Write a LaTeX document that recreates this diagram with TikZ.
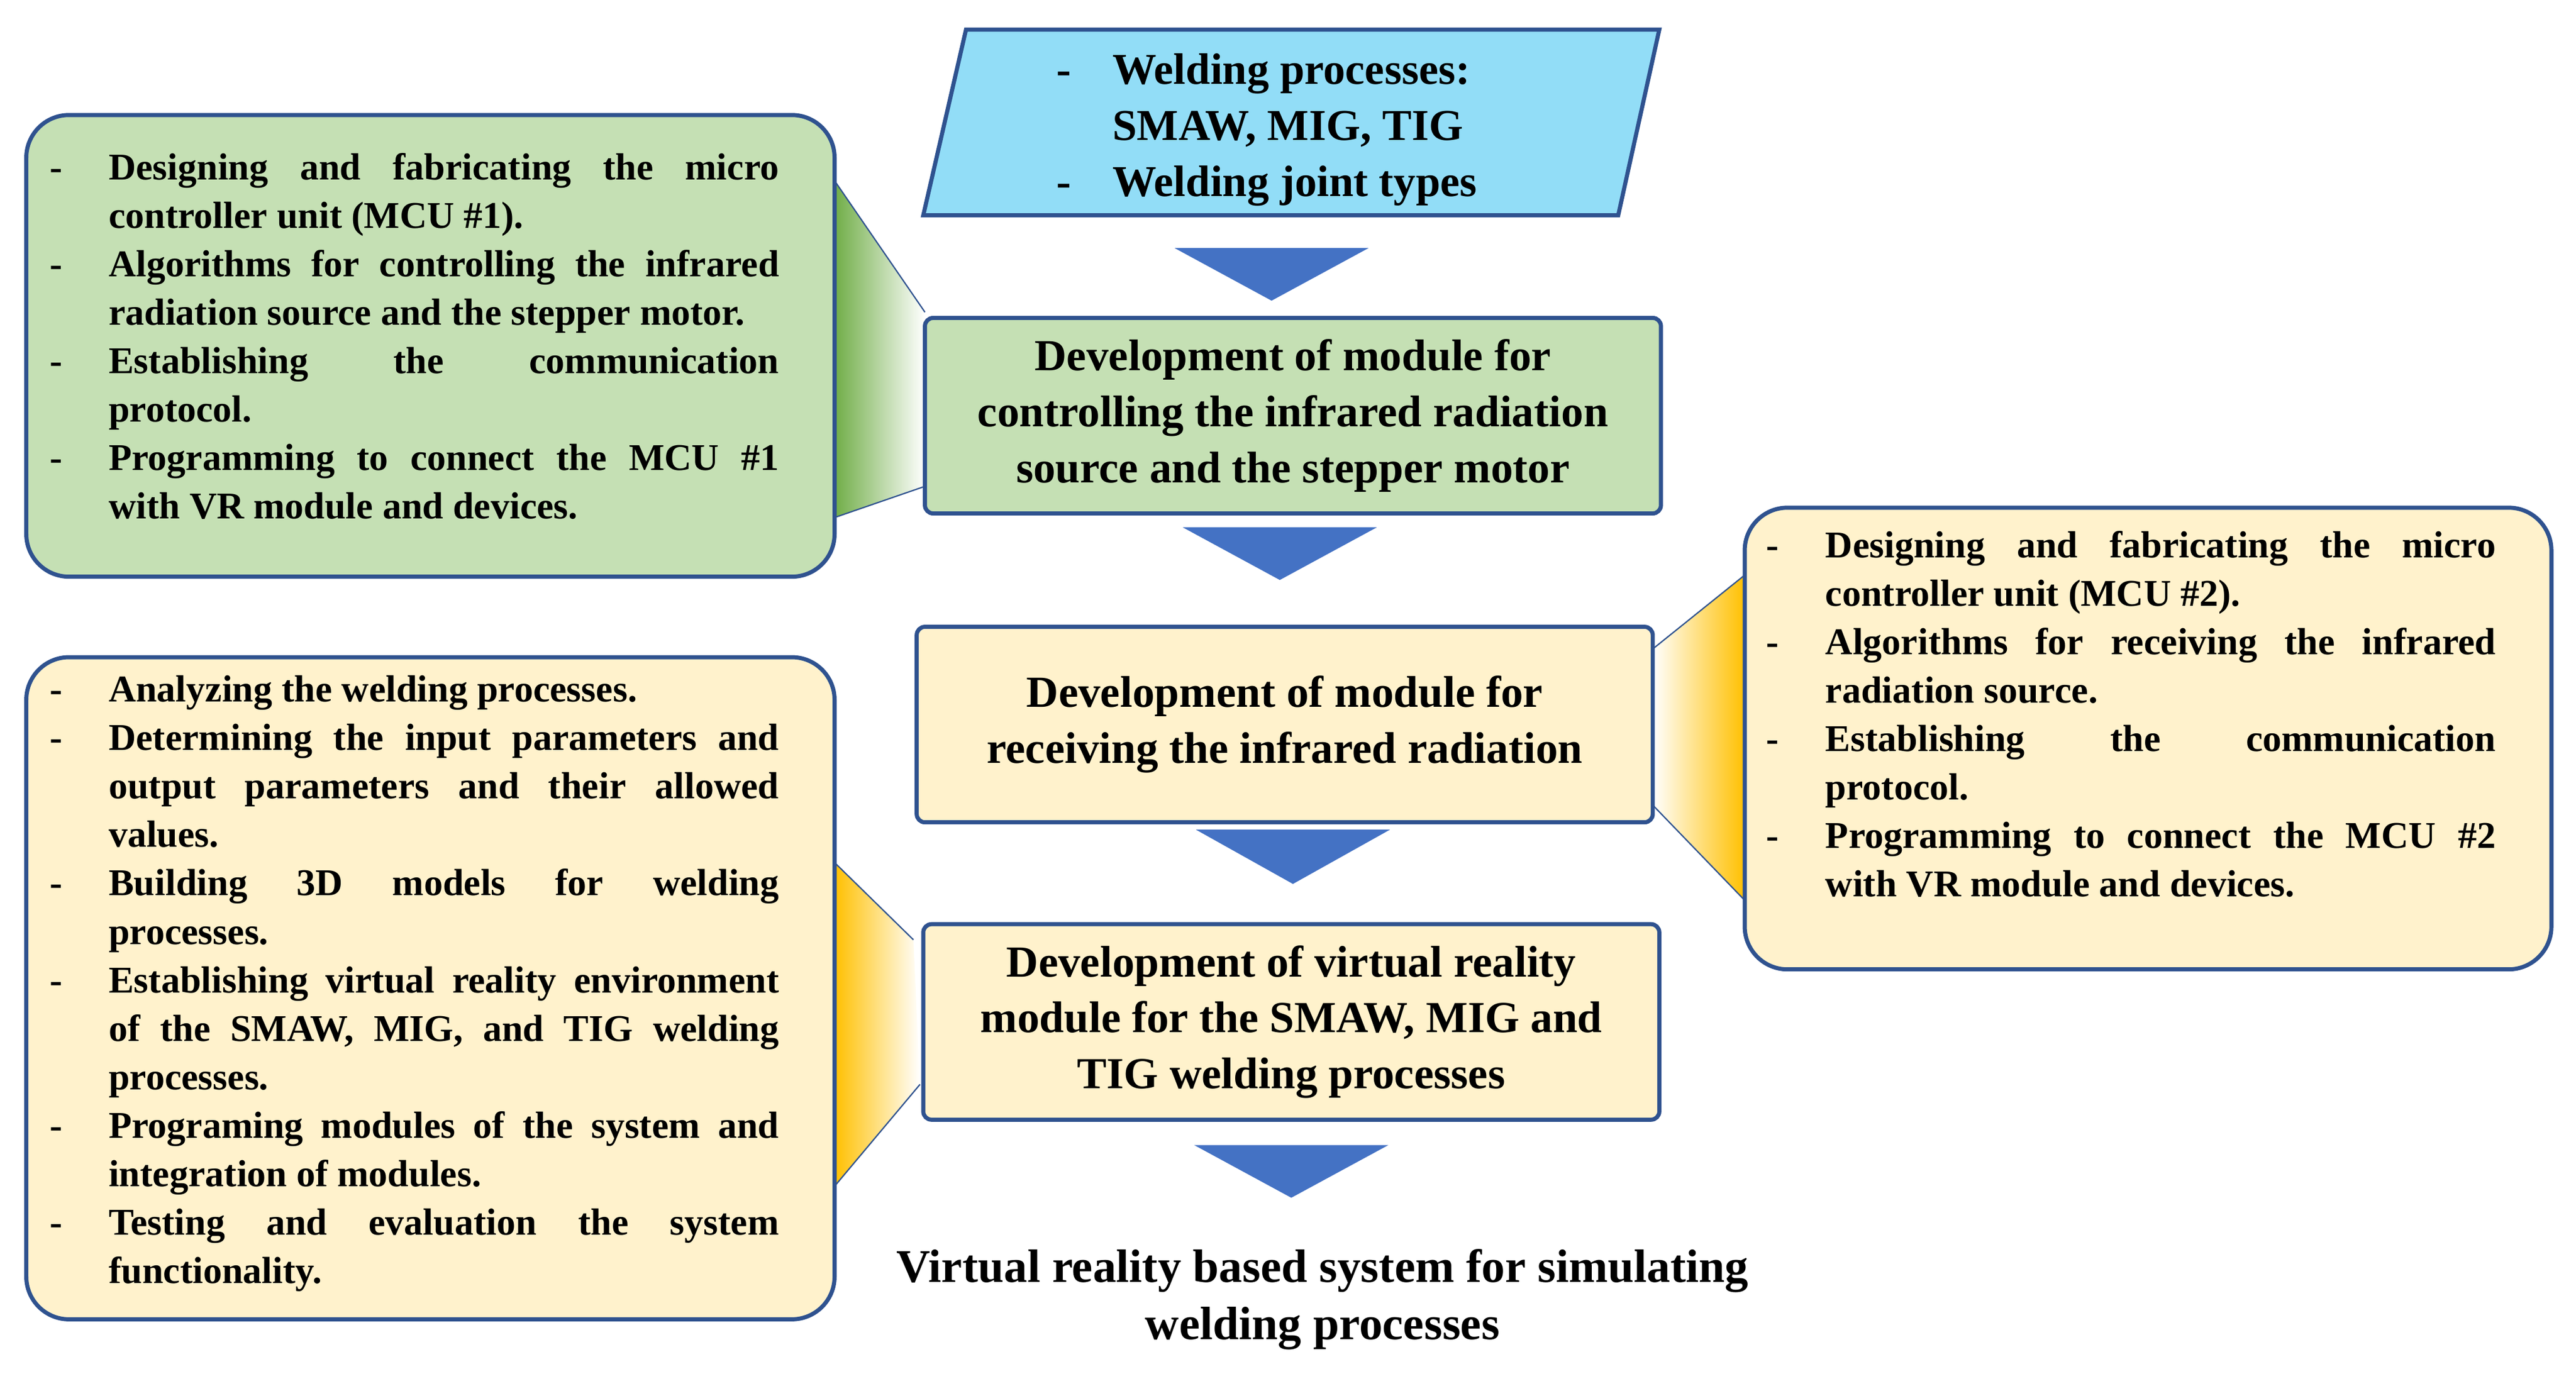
\documentclass[tikz,border=0pt]{standalone}
\usepackage{fontspec}
\setmainfont{Liberation Serif}
\definecolor{bord}{HTML}{2F528F}
\definecolor{grn}{HTML}{C5E0B4}
\definecolor{ylw}{HTML}{FFF2CC}
\definecolor{sky}{HTML}{92DDF7}
\definecolor{arr}{HTML}{4472C4}
\definecolor{gold}{HTML}{FFC000}
\definecolor{dgrn}{HTML}{70AD47}
\newcommand\itm[1]{\hangindent=36pt\hangafter=1\noindent\makebox[36pt][l]{-}#1\par}
\begin{document}
\begin{tikzpicture}[x=1pt,y=-1pt,
  cbox/.style={draw=bord,line width=2.5pt,rounded corners=5pt,minimum width=448pt,minimum height=119pt,inner sep=0pt,align=center,font=\fontsize{27}{34}\selectfont\bfseries},
  sbox/.style={draw=bord,line width=2.5pt,rounded corners=26pt,fill=#1,inner sep=0pt},
  stxt/.style={anchor=north west,inner sep=0pt,text width=444pt,align=justify,font=\fontsize{23}{29.5}\selectfont\bfseries},
  tri/.style={fill=arr},
  conn/.style={draw=bord,line width=0.8pt}]
\useasboundingbox (0,0) rectangle (1568,836);
% shadings
\shade[left color=dgrn,right color=white,draw=none] (508,110) -- (563,190) -- (563,296) -- (508,315) -- cycle;
\shade[left color=white,right color=gold,draw=none] (1006,395) -- (1062,350) -- (1062,548) -- (1006,490) -- cycle;
\shade[left color=gold,right color=white,draw=none] (508,525) -- (556,572) -- (560,660) -- (508,722) -- cycle;
% parallelogram
\draw[draw=bord,line width=2.5pt,fill=sky] (588,18) -- (1010,18) -- (985,131) -- (562,131) -- cycle;
\node[anchor=west,align=left,inner sep=0pt,font=\fontsize{26.8}{34}\selectfont\bfseries] (inp) at (643,79)
 {\makebox[34pt][l]{-}Welding processes:\\\makebox[34pt][l]{}SMAW, MIG, TIG\\\makebox[34pt][l]{-}Welding joint types};
% center boxes
\node[cbox,fill=grn] (b1) at (787,253) {Development of module for\\controlling the infrared radiation\\source and the stepper motor};
\node[cbox,fill=ylw] (b2) at (782,441) {Development of module for\\receiving the infrared radiation};
\node[cbox,fill=ylw] (b3) at (786,622) {Development of virtual reality\\module for the SMAW, MIG and\\TIG welding processes};
% arrows
\fill[tri] (715,151) -- (833,151) -- (774,183) -- cycle;
\fill[tri] (720,321) -- (838,321) -- (779,353) -- cycle;
\fill[tri] (728,505) -- (846,505) -- (787,538) -- cycle;
\fill[tri] (727,697) -- (845,697) -- (786,729) -- cycle;
% side boxes
\node[sbox=grn,minimum width=492pt,minimum height=281pt] (lg) at (262,210.5) {};
\node[sbox=ylw,minimum width=492pt,minimum height=403pt] (ly) at (262,601.5) {};
\node[sbox=ylw,minimum width=491pt,minimum height=281pt] (ry) at (1307.5,449.5) {};
% connectors
\coordinate (c1) at (508,110); \coordinate (c2) at (508,315);
\coordinate (c3) at (1062,350); \coordinate (c4) at (1062,548);
\coordinate (c5) at (508,525); \coordinate (c6) at (508,722);
\coordinate (d1) at (563,190); \coordinate (d2) at (563,296);
\coordinate (d3) at (1006,395); \coordinate (d4) at (1006,490);
\coordinate (d5) at (556,572); \coordinate (d6) at (560,660);
\draw[conn] (c1) -- (d1); \draw[conn] (c2) -- (d2);
\draw[conn] (d3) -- (c3); \draw[conn] (d4) -- (c4);
\draw[conn] (c5) -- (d5); \draw[conn] (c6) -- (d6);
% side texts
\node[stxt] (tg) at (30,93) {%
\itm{Designing and fabricating the micro\linebreak controller unit (MCU \#1).}
\itm{Algorithms for controlling the infrared\linebreak radiation source and the stepper motor.}
\itm{Establishing the communication\linebreak protocol.}
\itm{Programming to connect the MCU \#1\linebreak with VR module and devices.}};
\node[stxt] (ty) at (30,411) {%
\itm{Analyzing the welding processes.}
\itm{Determining the input parameters and\linebreak output parameters and their allowed\linebreak values.}
\itm{Building 3D models for welding\linebreak processes.}
\itm{Establishing virtual reality environment\linebreak of the SMAW, MIG, and TIG welding\linebreak processes.}
\itm{Programing modules of the system and\linebreak integration of modules.}
\itm{Testing and evaluation the system\linebreak functionality.}};
\node[stxt] (tr) at (1075,323) {%
\itm{Designing and fabricating the micro\linebreak controller unit (MCU \#2).}
\itm{Algorithms for receiving the infrared\linebreak radiation source.}
\itm{Establishing the communication\linebreak protocol.}
\itm{Programming to connect the MCU \#2\linebreak with VR module and devices.}};
% output
\node[align=center,inner sep=0pt,font=\fontsize{28.5}{35}\selectfont\bfseries] (out) at (805,791) {Virtual reality based system for simulating\\welding processes};
\end{tikzpicture}
\end{document}
